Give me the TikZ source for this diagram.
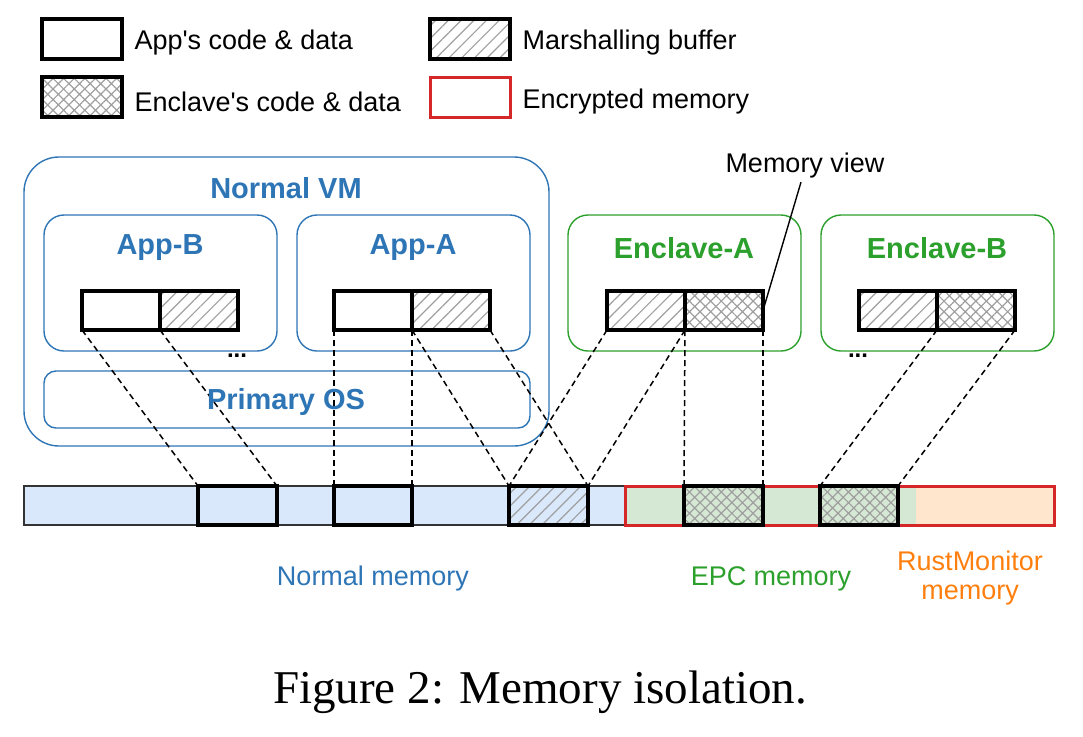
\documentclass[tikz,border=0pt]{standalone}
\usepackage{fontspec}
\setmainfont{Liberation Sans}
\newfontfamily\capfont{Liberation Serif}
\usepackage{xcolor}
\usetikzlibrary{positioning, patterns.meta}

\definecolor{vmblue}{RGB}{46,117,182}
\definecolor{encgreen}{RGB}{44,160,44}
\definecolor{rmorange}{RGB}{255,127,14}
\definecolor{encred}{RGB}{214,39,40}
\definecolor{normfill}{RGB}{218,232,252}
\definecolor{epcfill}{RGB}{213,232,212}
\definecolor{rmfill}{RGB}{255,230,204}

\begin{document}
\begin{tikzpicture}[
    x=1pt, y=-1pt,
    legbox/.style={draw, line width=3.5pt, minimum width=80pt, minimum height=40pt, inner sep=0pt, outer sep=0pt},
    legtext/.style={anchor=west, font=\fontsize{27}{31}\selectfont},
    group/.style={draw, line width=1.4pt, rounded corners=20pt, inner sep=0pt},
    grouptitle/.style={font=\fontsize{29}{34}\selectfont\bfseries},
    buf/.style={draw, line width=3.5pt, minimum width=78pt, minimum height=39pt, inner sep=0pt, outer sep=0pt},
    mhatch/.style={pattern={Lines[angle=45, distance=9pt, line width=1.2pt]}, pattern color=gray!75},
    xhatch/.style={pattern={Hatch[angle=45, distance=7.5pt, line width=1.2pt]}, pattern color=gray!75},
    mapline/.style={dash pattern=on 6pt off 4pt, line width=1.5pt},
    memlabel/.style={font=\fontsize{27}{30}\selectfont, align=center}
]
\useasboundingbox (0,0) rectangle (1083,736);

% --- LEGEND ---
\node[legbox] (legapp) at (82,39) {};
\node[legtext] (legapptext) at (131,43) {App\textquotesingle s code \& data};
\node[legbox, xhatch] (legenc) at (82,97) {};
\node[legtext] (legenctext) at (131,102) {Enclave\textquotesingle s code \& data};
\node[legbox, mhatch] (legmar) at (470,39) {};
\node[legtext] (legmartext) at (519,43) {Marshalling buffer};
\node[legbox, draw=encred, line width=3pt] (legencr) at (470,97) {};
\node[legtext] (legencrtext) at (519,102) {Encrypted memory};

% --- NORMAL VM ---
\node[group, draw=vmblue, rounded corners=35pt, minimum width=525pt, minimum height=289pt] (normalvm) at (286.5,301.5) {};
\node[grouptitle, text=vmblue] (normalvmtitle) at (286,188) {Normal VM};
\node[group, draw=vmblue, minimum width=233pt, minimum height=136pt] (appb) at (160.5,283) {};
\node[grouptitle, text=vmblue] (appbtitle) at (160,248) {App-B};
\node[group, draw=vmblue, minimum width=233pt, minimum height=136pt] (appa) at (413.5,283) {};
\node[grouptitle, text=vmblue] (appatitle) at (413,248) {App-A};
\node[group, draw=vmblue, rounded corners=12pt, minimum width=486pt, minimum height=57pt] (os) at (287,399.5) {};
\node[font=\fontsize{24}{28}\selectfont\bfseries] (appdots) at (237,356) {...};

% --- ENCLAVES ---
\node[group, draw=encgreen, minimum width=233pt, minimum height=136pt] (encla) at (684.5,283) {};
\node[grouptitle, text=encgreen] (enclatitle) at (684,248) {Enclave-A};
\node[group, draw=encgreen, minimum width=233pt, minimum height=136pt] (enclb) at (937.5,283) {};
\node[grouptitle, text=encgreen] (enclbtitle) at (937,248) {Enclave-B};
\node[font=\fontsize{24}{28}\selectfont\bfseries] (encdots) at (858,356) {...};

% --- BUFFERS ---
\node[buf, fill=white] (appbc) at (121,310.5) {};
\node[buf, mhatch] (appbm) at (199,310.5) {};
\node[buf, fill=white] (appac) at (373,310.5) {};
\node[buf, mhatch] (appam) at (451,310.5) {};
\node[buf, mhatch] (encam) at (646,310.5) {};
\node[buf, xhatch] (encax) at (724,310.5) {};
\node[buf, mhatch] (encbm) at (898,310.5) {};
\node[buf, xhatch] (encbx) at (976,310.5) {};

% --- MEMORY BAR ---
\node[draw=black!80, line width=1.4pt, fill=normfill, minimum width=601pt, minimum height=39pt, inner sep=0pt] (normbar) at (324.5,505.5) {};
\node[fill=epcfill, minimum width=291pt, minimum height=39pt, inner sep=0pt] (epcbar) at (770.5,505.5) {};
\node[fill=rmfill, minimum width=138pt, minimum height=39pt, inner sep=0pt] (rmbar) at (985,505.5) {};
\node[draw=encred, line width=3pt, minimum width=429pt, minimum height=39pt, inner sep=0pt] (encrbar) at (839.5,505.5) {};

\node[buf, minimum width=79pt] (memb) at (237.5,505.5) {};
\node[buf] (mema) at (373,505.5) {};
\node[buf, mhatch, minimum width=79pt] (memm) at (548.5,505.5) {};
\node[buf, xhatch, minimum width=79pt] (memea) at (723.5,505.5) {};
\node[buf, xhatch] (memeb) at (859,505.5) {};

% --- MAPPINGS ---
\draw[mapline] (appbc.south west) -- (memb.north west);
\draw[mapline] (appbc.south east) -- (memb.north east);
\draw[mapline] (appac.south west) -- (mema.north west);
\draw[mapline] (appac.south east) -- (mema.north east);
\draw[mapline] (appam.south west) -- (memm.north west);
\draw[mapline] (appam.south east) -- (memm.north east);
\draw[mapline] (encam.south west) -- (memm.north west);
\draw[mapline] (encam.south east) -- (memm.north east);
\draw[mapline] (encax.south west) -- (memea.north west);
\draw[mapline] (encax.south east) -- (memea.north east);
\draw[mapline] (encbx.south west) -- (memeb.north west);
\draw[mapline] (encbx.south east) -- (memeb.north east);

\node[grouptitle, text=vmblue] (ostitle) at (286,402) {Primary OS};

% --- LABELS ---
\node[memlabel] (mview) at (805,166) {Memory view};
\draw[line width=1.4pt] (encax.east) -- ([xshift=-4pt]mview.south);

\node[memlabel, text=vmblue] (normlabel) at (373,579) {Normal memory};
\node[memlabel, text=encgreen] (epclabel) at (771,579) {EPC memory};
\node[memlabel, text=rmorange, font=\fontsize{27}{29}\selectfont] (rmlabel) at (970,578) {RustMonitor\\memory};

\node[font=\capfont\fontsize{47}{54}\selectfont] (caption) at (540,692) {Figure 2: Memory isolation.};
\end{tikzpicture}
\end{document}
